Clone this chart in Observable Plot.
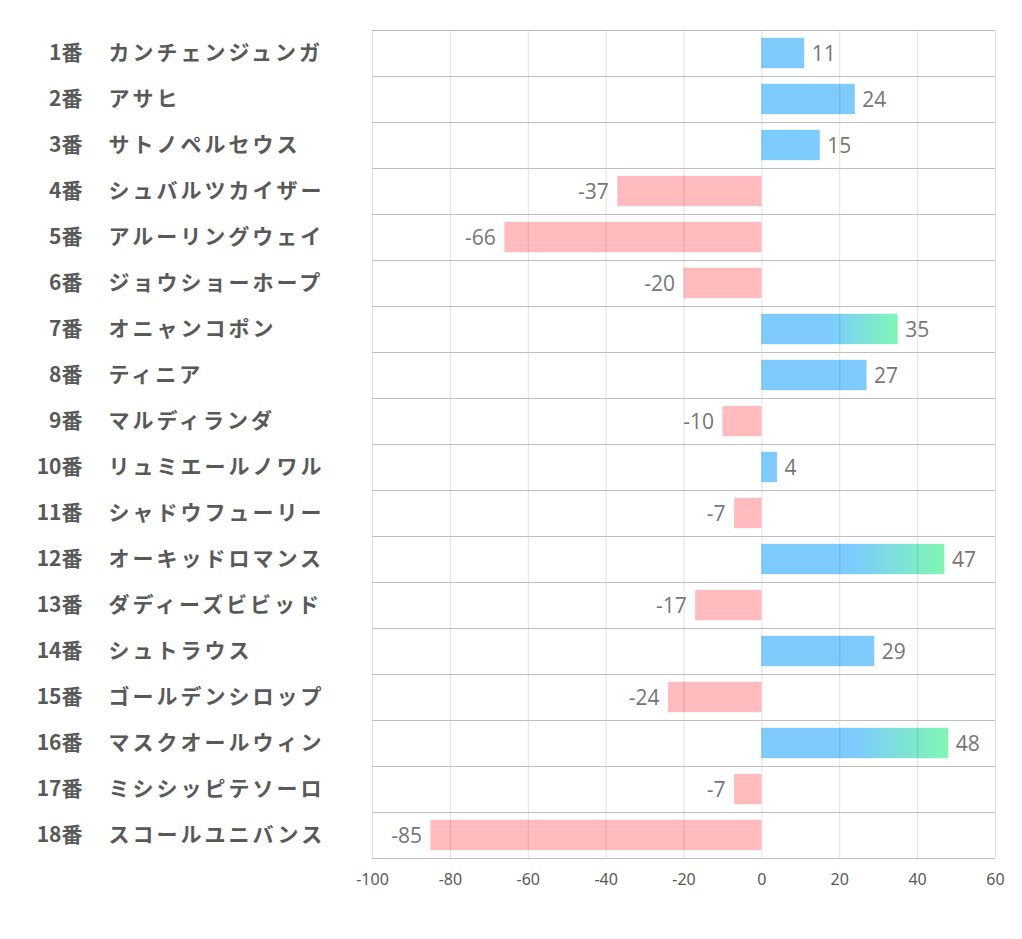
<!DOCTYPE html>
<html><head><meta charset="utf-8">
<script src="https://cdn.jsdelivr.net/npm/d3@7"></script>
<script src="https://cdn.jsdelivr.net/npm/@observablehq/plot@0.6"></script>
<style>
html,body{margin:0;padding:0;background:#fff;}
</style>
</head><body>
<div id="chart"></div>
<script>
const numbers = ["1番","2番","3番","4番","5番","6番","7番","8番","9番","10番","11番","12番","13番","14番","15番","16番","17番","18番"];
const names = ["カンチェンジュンガ","アサヒ","サトノペルセウス","シュバルツカイザー","アルーリングウェイ","ジョウショーホープ","オニャンコポン","ティニア","マルディランダ","リュミエールノワル","シャドウフューリー","オーキッドロマンス","ダディーズビビッド","シュトラウス","ゴールデンシロップ","マスクオールウィン","ミシシッピテソーロ","スコールユニバンス"];
const values = [11,24,15,-37,-66,-20,35,27,-10,4,-7,47,-17,29,-24,48,-7,-85];
const xTicks = [-100,-80,-60,-40,-20,0,20,40,60];

const data = values.map((v,i)=>({i, num:numbers[i], name:names[i], v}));
const pos = data.filter(d => d.v >= 0);
const neg = data.filter(d => d.v < 0);
const rows = d3.range(numbers.length + 1);

const fillFor = d => d.v < 0 ? "#FFBBBD" : (d.v >= 30 ? "url(#barGrad)" : "#7DCBFF");
const valFont = "Open Sans, Noto Sans, sans-serif";
const labFont = "Noto Sans CJK JP, sans-serif";

const plot = Plot.plot({
  width: 1022,
  height: 939,
  marginLeft: 372,
  marginRight: 27,
  marginTop: 30,
  marginBottom: 81,
  style: {background: "#fff", overflow: "visible"},
  x: {domain: [-100, 60], axis: null},
  y: {domain: [0, numbers.length], reverse: true, axis: null},
  marks: [
    Plot.rectX(data, {x1: 0, x2: "v", y1: d => d.i + 0.17, y2: d => d.i + 0.83, fill: fillFor}),
    Plot.ruleX(xTicks, {x: d => d, stroke: "#000", strokeOpacity: 0.12}),
    Plot.ruleY(rows, {y: d => d, x1: -100, x2: 60, stroke: "#bfbfbf", strokeWidth: 1}),
    Plot.text(pos, {x: "v", y: d => d.i + 0.5, text: d => String(d.v), textAnchor: "start", dx: 7, dy: 1,
      fill: "#767676", fontSize: 21, fontFamily: valFont}),
    Plot.text(neg, {x: "v", y: d => d.i + 0.5, text: d => String(d.v), textAnchor: "end", dx: -9, dy: 1,
      fill: "#767676", fontSize: 21, fontFamily: valFont}),
    Plot.text(data, {frameAnchor: "left", y: d => d.i + 0.5, text: "num", textAnchor: "end", dx: -290,
      fill: "#595959", fontSize: 21, fontWeight: "bold", fontFamily: labFont}),
    Plot.text(data, {frameAnchor: "left", y: d => d.i + 0.5, text: "name", textAnchor: "start", dx: -264,
      fill: "#595959", fontSize: 21, fontWeight: "bold", fontFamily: labFont}),
    Plot.text(xTicks, {x: d => d, frameAnchor: "bottom", dy: 26, text: d => String(d),
      fill: "#595959", fontSize: 16, fontFamily: "Noto Sans, sans-serif"})
  ]
});

const ns = "http://www.w3.org/2000/svg";
const defs = document.createElementNS(ns, "defs");
defs.innerHTML = `<linearGradient id="barGrad" x1="0" y1="0" x2="1" y2="0">
  <stop offset="0.5" stop-color="#7DCBFF"/>
  <stop offset="1" stop-color="#7FF7B3"/>
</linearGradient>`;
plot.insertBefore(defs, plot.firstChild);

const textGroups = plot.querySelectorAll("g[aria-label='text']");
if (textGroups[3]) textGroups[3].setAttribute("letter-spacing", "3");

document.getElementById("chart").appendChild(plot);
</script>
</body></html>
